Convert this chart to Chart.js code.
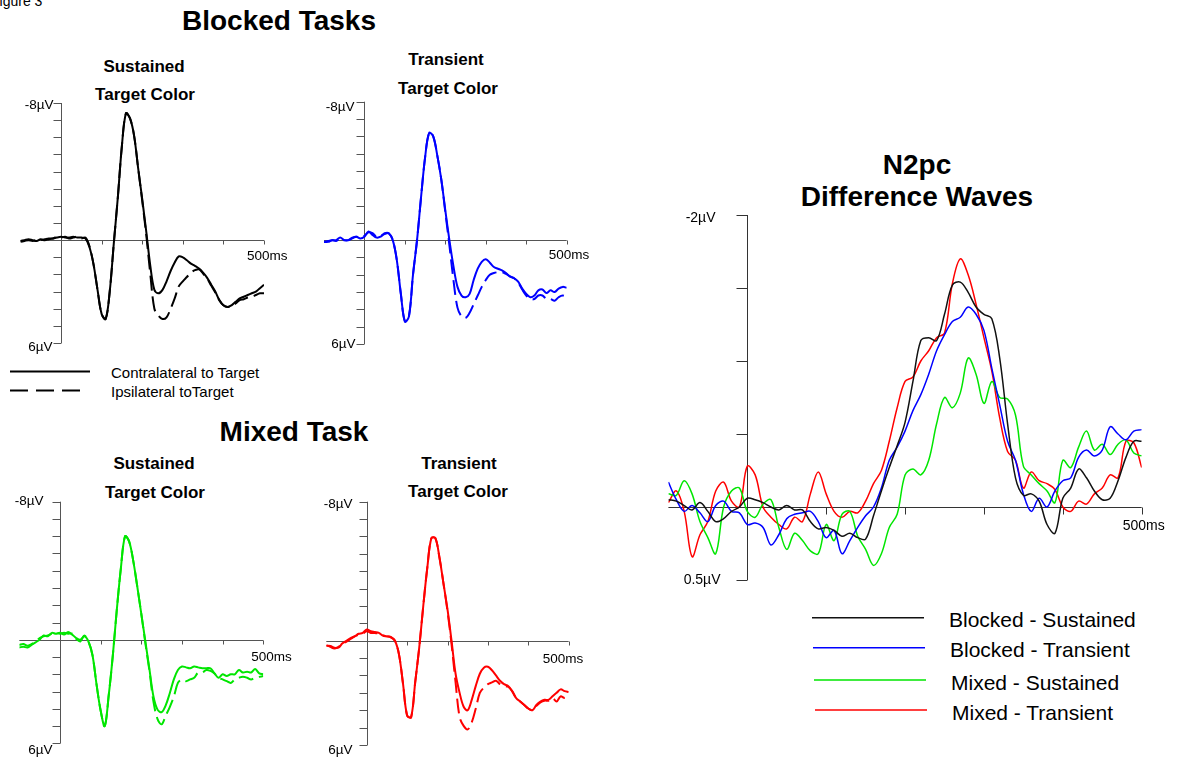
<!DOCTYPE html>
<html>
<head>
<meta charset="utf-8">
<script src="https://cdn.jsdelivr.net/npm/chart.js@4"></script>
<style>
  body { margin: 0; background: #fff; width: 1177px; height: 760px; overflow: hidden; position: relative;
         font-family: "Liberation Sans", Arial, sans-serif; color: #000; }
  canvas { position: absolute; left: 0; top: 0; }
  .t { position: absolute; transform: translate(-50%, -50%); white-space: nowrap; font-weight: bold; line-height: 1; }
  .big { font-size: 28px; }
  .sub { font-size: 17px; }
  .lg { position: absolute; white-space: nowrap; line-height: 1; transform: translateY(-50%); }
</style>
</head>
<body>

<div style="position:absolute;left:-9px;top:-6px;font-size:14px;line-height:14px;">Figure 3</div>

<div class="t big" style="left:279px;top:21px;">Blocked Tasks</div>
<div class="t sub" style="left:144px;top:66px;">Sustained</div>
<div class="t sub" style="left:145px;top:94px;">Target Color</div>
<div class="t sub" style="left:446px;top:59px;">Transient</div>
<div class="t sub" style="left:448px;top:88px;">Target Color</div>

<div class="t big" style="left:294px;top:432px;">Mixed Task</div>
<div class="t sub" style="left:154px;top:463px;">Sustained</div>
<div class="t sub" style="left:155px;top:492px;">Target Color</div>
<div class="t sub" style="left:459px;top:463px;">Transient</div>
<div class="t sub" style="left:458px;top:491px;">Target Color</div>

<div class="t" style="left:917px;top:165px;font-size:28px;">N2pc</div>
<div class="t" style="left:917px;top:197px;font-size:28px;">Difference Waves</div>

<svg style="position:absolute;left:0;top:0" width="1177" height="760" id="legendSvg">
  <line x1="10" y1="371.5" x2="90" y2="371.5" stroke="#000" stroke-width="2"/>
  <line x1="10" y1="390.5" x2="82" y2="390.5" stroke="#000" stroke-width="2" stroke-dasharray="18 8"/>
</svg>
<div class="lg" style="left:111px;top:372px;font-size:15px;">Contralateral to Target</div>
<div class="lg" style="left:111px;top:391px;font-size:15px;">Ipsilateral toTarget</div>
<div id="diffLegend"></div>

<canvas id="c1" width="1177" height="760"></canvas>
<canvas id="c2" width="1177" height="760"></canvas>
<canvas id="c3" width="1177" height="760"></canvas>
<canvas id="c4" width="1177" height="760"></canvas>
<canvas id="c5" width="1177" height="760"></canvas>

<script>
// time points (ms)
const times = [-100, -90, -80, -70, -60, -50, -40, -30, -20, -10,
  0, 10, 20, 30, 40, 50, 60, 70, 80, 90,
  100, 110, 120, 130, 140, 150, 160, 170, 180, 190,
  200, 210, 220, 230, 240, 250, 260, 270, 280, 290,
  300, 310, 320, 330, 340, 350, 360, 370, 380, 390,
  400, 410, 420, 430, 440, 450, 460, 470, 480, 490,
  500];

// tick values and labels
const erpYTicks = [-8, -7, -6, -5, -4, -3, -2, -1, 0, 1, 2, 3, 4, 5, 6];
const diffYTicks = [-2, -1.5, -1, -0.5, 0, 0.5];
const timeTicks = [100, 200, 300, 400, 500];
const erpTickLabels = ['-8µV', '6µV'];
const diffTickLabels = ['-2µV', '0.5µV'];
const timeLabel = '500ms';

// Blocked - Sustained (µV)
const bsContra = [0.05, 0.0, -0.05, 0.0, 0.05, -0.05, 0.0, -0.05, -0.1, -0.15,
  -0.2, -0.15, -0.15, -0.2, -0.15, -0.15, -0.1, 0.4, 1.4, 2.9,
  4.3, 4.6, 3.0, 0.2, -2.5, -5.5, -7.4, -7.1, -6.1, -4.2,
  -2.4, -0.5, 1.5, 2.9, 3.1, 2.9, 2.4, 1.8, 1.3, 0.95,
  1.0, 1.17, 1.37, 1.5, 1.66, 1.9, 2.2, 2.6, 3.0, 3.5,
  3.8, 3.9, 3.8, 3.6, 3.4, 3.3, 3.2, 3.1, 3.0, 2.8,
  2.6];
const bsIpsi = [0.1, 0.05, 0.0, 0.05, 0.0, 0.0, -0.05, -0.1, -0.1, -0.2,
  -0.15, -0.2, -0.1, -0.15, -0.2, -0.1, -0.15, 0.35, 1.4, 2.9,
  4.3, 4.6, 3.0, 0.2, -2.5, -5.5, -7.4, -7.1, -6.1, -4.2,
  -2.3, -0.3, 2.0, 4.0, 4.4, 4.6, 4.5, 4.0, 3.4, 2.7,
  2.4, 2.15, 1.9, 1.75, 1.7, 1.95, 2.25, 2.65, 3.05, 3.5,
  3.8, 3.9, 3.85, 3.7, 3.5, 3.45, 3.35, 3.3, 3.2, 3.1,
  3.1];

// Blocked - Transient
const btContra = [0.1, 0.1, 0.0, 0.0, -0.15, 0.0, 0.0, -0.15, -0.2, -0.1,
  -0.2, -0.5, -0.3, -0.15, -0.2, -0.4, -0.4, 0.0, 1.15, 3.1,
  4.7, 4.4, 2.0, 0.0, -2.5, -4.8, -6.2, -6.0, -4.9, -3.5,
  -1.7, 0.0, 1.5, 2.7, 3.2, 3.3, 3.1, 2.3, 1.65, 1.25,
  1.1, 1.3, 1.55, 1.65, 1.75, 1.9, 2.1, 2.2, 2.4, 2.8,
  3.1, 3.3, 3.2, 2.9, 2.85, 3.05, 2.9, 3.0, 2.8, 2.7,
  2.75];
const btIpsi = [0.1, 0.05, 0.0, 0.05, -0.1, 0.0, 0.0, -0.1, -0.2, -0.15,
  -0.25, -0.45, -0.4, -0.2, -0.25, -0.35, -0.4, 0.0, 1.15, 3.1,
  4.7, 4.4, 2.0, 0.0, -2.5, -4.8, -6.2, -6.0, -4.9, -3.5,
  -1.6, 0.3, 2.3, 3.9, 4.4, 4.5, 4.2, 3.7, 3.2, 2.7,
  2.3, 2.0, 1.9, 1.85, 1.85, 1.95, 2.1, 2.2, 2.45, 2.85,
  3.2, 3.4, 3.4, 3.2, 3.2, 3.4, 3.4, 3.5, 3.3, 3.2,
  3.3];

// Mixed - Sustained
const msContra = [0.45, 0.4, 0.45, 0.3, 0.15, 0.0, -0.25, -0.2, -0.4, -0.35,
  -0.4, -0.3, -0.45, -0.3, -0.1, 0.0, -0.2, 0.1, 0.9, 2.6,
  4.1, 5.0, 3.2, 0.9, -1.8, -4.2, -6.0, -5.7, -4.6, -3.1,
  -1.5, 0.1, 1.7, 3.3, 4.05, 4.2, 3.8, 3.1, 2.3, 1.75,
  1.55, 1.6, 1.65, 1.55, 1.6, 1.65, 1.65, 1.65, 1.95, 2.2,
  2.0, 2.1, 2.0, 2.0, 1.75, 1.9, 1.85, 1.9, 1.7, 1.95,
  2.0];
const msIpsi = [0.3, 0.25, 0.35, 0.25, 0.1, -0.1, -0.2, -0.25, -0.35, -0.4,
  -0.35, -0.4, -0.35, -0.35, -0.05, 0.1, -0.25, 0.1, 0.9, 2.6,
  4.1, 5.0, 3.2, 0.9, -1.8, -4.2, -6.0, -5.7, -4.6, -3.1,
  -1.5, 0.2, 1.8, 3.6, 4.6, 4.9, 4.4, 3.9, 3.3, 2.5,
  2.3, 2.4, 2.3, 2.2, 1.9, 1.9, 1.75, 1.8, 1.95, 2.2,
  2.3, 2.4, 2.5, 2.3, 2.2, 2.15, 2.2, 2.3, 2.2, 2.15,
  2.1];

// Mixed - Transient
const mtContra = [0.3, 0.3, 0.4, 0.4, 0.15, 0.0, -0.15, -0.25, -0.4, -0.45,
  -0.65, -0.55, -0.5, -0.45, -0.3, -0.25, -0.2, 0.0, 0.8, 2.5,
  4.3, 4.4, 2.4, 0.4, -2.0, -4.2, -5.9, -5.9, -4.8, -3.3,
  -1.8, 0.0, 1.9, 3.0, 3.8, 4.0, 3.4, 2.6, 1.9, 1.55,
  1.5, 1.7, 2.0, 2.3, 2.5, 2.6, 2.9, 3.3, 3.5, 3.7,
  3.9, 4.0, 3.7, 3.5, 3.4, 3.4, 3.2, 3.0, 2.8, 2.9,
  2.95];
const mtIpsi = [0.25, 0.35, 0.45, 0.35, 0.2, 0.05, -0.1, -0.25, -0.35, -0.4,
  -0.55, -0.45, -0.45, -0.4, -0.3, -0.25, -0.2, 0.0, 0.8, 2.5,
  4.3, 4.4, 2.4, 0.4, -2.0, -4.2, -5.9, -5.9, -4.8, -3.3,
  -1.7, 0.2, 2.4, 4.4, 4.9, 5.1, 4.7, 3.9, 3.0, 2.7,
  2.5, 2.4, 2.3, 2.5, 2.6, 2.65, 2.9, 3.3, 3.5, 3.7,
  3.9, 4.0, 3.75, 3.55, 3.45, 3.45, 3.3, 3.5, 3.2, 3.3,
  3.2];

// N2pc difference waves (contra - ipsi)
const diffNames = ['Blocked - Sustained', 'Blocked - Transient', 'Mixed - Sustained', 'Mixed - Transient'];
const diffBlockedSustained = [-0.05, -0.04, -0.01, 0.02, -0.03, 0.03, 0.10, 0.08, 0.03, 0.00,
  -0.06, -0.05, -0.03, 0.00, 0.02, -0.01, 0.02, 0.02, 0.10, 0.15,
  0.14, 0.16, 0.20, 0.18, 0.21, 0.22, 0.06, -0.11, -0.27, -0.42,
  -0.58, -0.86, -1.14, -1.16, -1.14, -1.32, -1.52, -1.54, -1.47, -1.37,
  -1.32, -1.29, -1.02, -0.57, -0.20, -0.08, -0.09, -0.04, 0.12, 0.18,
  -0.06, -0.13, -0.26, -0.20, -0.11, -0.05, -0.06, -0.18, -0.34, -0.45,
  -0.45];
const diffBlockedTransient = [-0.17, -0.05, 0.03, -0.01, 0.04, 0.10, -0.01, -0.04, 0.03, 0.04,
  0.12, 0.11, 0.14, 0.26, 0.19, 0.08, 0.05, 0.04, 0.03, 0.10,
  0.21, 0.16, 0.32, 0.23, 0.14, 0.06, 0.00, -0.13, -0.32, -0.41,
  -0.52, -0.66, -0.77, -0.91, -1.07, -1.18, -1.27, -1.30, -1.37, -1.32,
  -1.21, -0.95, -0.70, -0.45, -0.32, -0.09, 0.03, -0.06, 0.00, -0.11,
  -0.18, -0.20, -0.34, -0.39, -0.35, -0.39, -0.55, -0.50, -0.46, -0.52,
  -0.53];
const diffMixedSustained = [-0.09, -0.08, -0.18, -0.09, 0.10, 0.21, 0.32, 0.00, -0.11, -0.13,
  0.03, 0.07, -0.02, -0.05, 0.14, 0.29, 0.18, 0.23, 0.30, 0.32,
  0.12, 0.23, 0.05, 0.03, 0.20, 0.29, 0.40, 0.32, 0.14, 0.05,
  -0.22, -0.26, -0.22, -0.32, -0.57, -0.75, -0.68, -0.78, -1.02, -0.91,
  -0.71, -0.86, -0.75, -0.74, -0.63, -0.28, -0.22, -0.16, -0.11, -0.03,
  -0.32, -0.27, -0.41, -0.52, -0.39, -0.43, -0.36, -0.43, -0.46, -0.37,
  -0.35];
const diffMixedTransient = [-0.03, -0.11, 0.03, 0.34, 0.19, 0.10, -0.11, -0.17, -0.04, 0.00,
  -0.28, -0.22, 0.00, 0.07, 0.12, 0.15, 0.07, 0.10, -0.09, -0.24,
  -0.09, 0.03, 0.07, 0.03, 0.04, -0.04, -0.16, -0.25, -0.45, -0.68,
  -0.86, -0.89, -1.00, -1.07, -1.16, -1.19, -1.53, -1.70, -1.59, -1.39,
  -1.16, -0.93, -0.61, -0.38, -0.32, -0.13, -0.24, -0.18, -0.16, -0.12,
  0.00, 0.03, -0.04, -0.02, -0.09, -0.13, -0.22, -0.20, -0.45, -0.44,
  -0.27];

const W = 1177, H = 760;
const FONT = '"Liberation Sans", Arial, sans-serif';

// draws ERP style axes: y axis at t = 0, x axis at 0 µV
const erpAxes = {
  id: 'erpAxes',
  beforeDatasetsDraw(chart, args, opts) {
    const { ctx, scales: { x, y } } = chart;
    const snap = v => Math.round(v) + 0.5;
    const x0 = snap(x.getPixelForValue(0));
    const y0 = snap(y.getPixelForValue(0));
    ctx.save();
    ctx.strokeStyle = opts.color;
    ctx.lineWidth = 1;
    ctx.beginPath();
    ctx.moveTo(x0, y.getPixelForValue(y.min));
    ctx.lineTo(x0, y.getPixelForValue(y.max));
    opts.yTicks.forEach(v => {
      const py = snap(y.getPixelForValue(v));
      ctx.moveTo(x0 - opts.yTickLen, py);
      ctx.lineTo(x0, py);
    });
    ctx.moveTo(x.getPixelForValue(x.min), y0);
    ctx.lineTo(x.getPixelForValue(x.max), y0);
    opts.xTicks.forEach(t => {
      const px = snap(x.getPixelForValue(t));
      ctx.moveTo(px, y0);
      ctx.lineTo(px, y0 + opts.xTickLen);
    });
    ctx.stroke();

    ctx.fillStyle = '#000';
    ctx.font = opts.font;
    ctx.textBaseline = 'middle';
    ctx.textAlign = 'right';
    opts.yLabels.forEach(l => {
      ctx.fillText(l.text, x0 + l.dx, y.getPixelForValue(l.v) + l.dy);
    });
    ctx.textAlign = 'left';
    const xl = opts.xLabel;
    ctx.fillText(xl.text, x.getPixelForValue(xl.v) + xl.dx, y0 + xl.dy);
    ctx.restore();
  }
};

function series(values, color, width, dash) {
  return {
    data: times.map((t, i) => ({ x: t, y: values[i] })),
    borderColor: color,
    borderWidth: width,
    borderDash: dash || [],
    pointRadius: 0,
    fill: false,
    tension: 0.35
  };
}

function makePanel(id, area, yMin, yMax, datasets, axesOpts) {
  const [l, t, r, b] = area;
  new Chart(document.getElementById(id), {
    type: 'line',
    data: { datasets: datasets },
    options: {
      responsive: false,
      animation: false,
      devicePixelRatio: 1,
      events: [],
      layout: { padding: { left: l, top: t, right: W - r, bottom: H - b } },
      plugins: { legend: { display: false }, tooltip: { enabled: false }, erpAxes: axesOpts },
      scales: {
        x: { type: 'linear', min: -100, max: 500, display: false },
        y: { type: 'linear', min: yMin, max: yMax, reverse: true, display: false }
      }
    },
    plugins: [erpAxes]
  });
}

function erpAxesOpts(lab) {
  return {
    color: '#555', yTicks: erpYTicks, xTicks: timeTicks, yTickLen: 8, xTickLen: 4,
    font: '13.5px ' + FONT,
    yLabels: [
      { v: -8, text: erpTickLabels[0], dx: lab[0], dy: lab[1] },
      { v: 6, text: erpTickLabels[1], dx: lab[2], dy: lab[3] }
    ],
    xLabel: { v: 500, text: timeLabel, dx: lab[4], dy: lab[5] }
  };
}

const DASH = [15, 6];

makePanel('c1', [20.4, 103, 264, 343], -8, 6,
  [series(bsContra, '#000', 2), series(bsIpsi, '#000', 2, DASH)],
  erpAxesOpts([-8, 2, -9, 4, -17, 16]));

makePanel('c2', [324, 101.7, 566.7, 344], -8, 6,
  [series(btContra, '#0000ff', 2), series(btIpsi, '#0000ff', 2, DASH)],
  erpAxesOpts([-10, 6, -9, 0, -18, 15]));

makePanel('c3', [19.3, 501.7, 263.3, 743.3], -8, 6,
  [series(msContra, '#00e600', 2), series(msIpsi, '#00e600', 2, DASH)],
  erpAxesOpts([-17, 0, -8, 7, -12, 17]));

makePanel('c4', [326.3, 501.7, 568.7, 745], -8, 6,
  [series(mtContra, '#ff0000', 2), series(mtIpsi, '#ff0000', 2, DASH)],
  erpAxesOpts([-15, 3, -15, 5, -26, 18]));

const diffColors = ['#111111', '#0000ff', '#00e600', '#ff0000'];
makePanel('c5', [668.4, 215, 1141.7, 580], -2, 0.5,
  [series(diffBlockedSustained, diffColors[0], 1.5),
   series(diffBlockedTransient, diffColors[1], 1.5),
   series(diffMixedSustained, diffColors[2], 1.5),
   series(diffMixedTransient, diffColors[3], 1.5)],
  {
    color: '#333', yTicks: diffYTicks, xTicks: timeTicks, yTickLen: 11, xTickLen: 7,
    font: '14px ' + FONT,
    yLabels: [
      { v: -2, text: diffTickLabels[0], dx: -32, dy: 3 },
      { v: 0.5, text: diffTickLabels[1], dx: -27, dy: 0 }
    ],
    xLabel: { v: 500, text: timeLabel, dx: -19, dy: 19 }
  });

// legend for the difference waves
const legendRows = [617.7, 647.7, 680, 710];
const svg = document.getElementById('legendSvg');
const legendBox = document.getElementById('diffLegend');
diffNames.forEach((name, i) => {
  const line = document.createElementNS('http://www.w3.org/2000/svg', 'line');
  line.setAttribute('x1', 812 + i);
  line.setAttribute('x2', 924 + i);
  line.setAttribute('y1', legendRows[i]);
  line.setAttribute('y2', legendRows[i]);
  line.setAttribute('stroke', diffColors[i]);
  line.setAttribute('stroke-width', '1.5');
  svg.appendChild(line);
  const d = document.createElement('div');
  d.className = 'lg';
  d.style.left = (949 + i) + 'px';
  d.style.top = (legendRows[i] + 1.5) + 'px';
  d.style.fontSize = '21px';
  d.textContent = name;
  legendBox.appendChild(d);
});
</script>
</body>
</html>
